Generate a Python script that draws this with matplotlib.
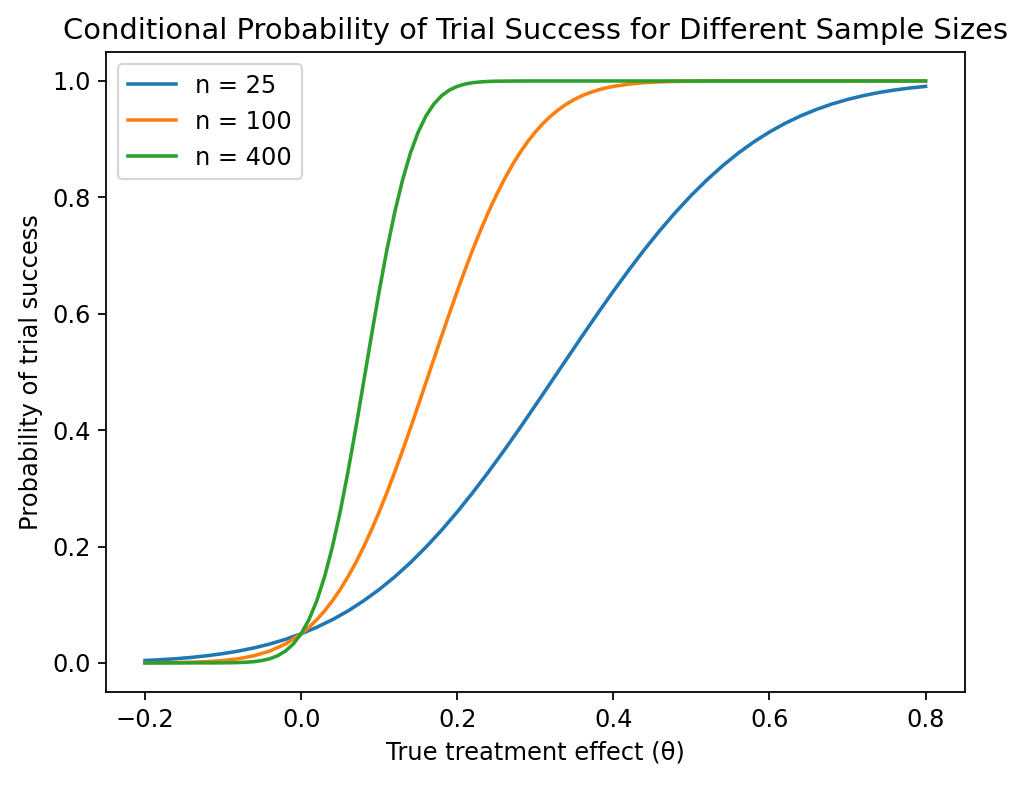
import numpy as np
import matplotlib
matplotlib.use('Agg')
import matplotlib.pyplot as plt

# values
theta25=[-0.20,-0.18,-0.16,-0.14,-0.12,-0.10,-0.08,-0.06,-0.04,-0.02,0.00,0.02,0.04,0.06,0.08,0.10,0.12,0.14,0.16,0.18,0.20,
         0.22,0.24,0.26,0.28,0.30,0.32,0.34,0.36,0.38,0.40,0.42,0.44,0.46,0.48,0.50,0.52,0.54,0.56,0.58,0.60,
         0.62,0.64,0.66,0.68,0.70,0.72,0.74,0.76,0.78,0.80]
p25=[0.0041,0.0055,0.0072,0.0095,0.0124,0.0160,0.0204,0.0259,0.0325,0.0405,0.0500,0.0612,0.0742,0.0893,0.1066,0.1261,0.1480,0.1723,0.1991,0.2281,0.2595,
     0.2929,0.3282,0.3650,0.4032,0.4424,0.4821,0.5219,0.5616,0.6006,0.6387,0.6754,0.7106,0.7438,0.7749,0.8037,0.8302,0.8543,0.8760,0.8953,0.9123,
     0.9272,0.9400,0.9510,0.9604,0.9682,0.9747,0.9801,0.9844,0.9879,0.9907]

theta100=[-0.20,-0.18,-0.16,-0.14,-0.12,-0.10,-0.08,-0.06,-0.04,-0.02,
          0.00,0.01,0.02,0.03,0.04,0.05,0.06,0.07,0.08,0.09,0.10,0.11,0.12,0.13,0.14,0.15,0.16,0.17,0.18,0.19,0.20,
          0.21,0.22,0.23,0.24,0.25,0.26,0.27,0.28,0.29,0.30,0.31,0.32,0.33,0.34,0.35,0.36,0.37,0.38,0.39,0.40,
          0.42,0.44,0.46,0.48,0.50,0.52,0.54,0.56,0.60,0.70,0.80]
p100=[0.0001,0.0003,0.0006,0.0012,0.0022,0.0041,0.0072,0.0124,0.0204,0.0325,
      0.0500,0.0612,0.0742,0.0893,0.1066,0.1261,0.1480,0.1723,0.1991,0.2281,0.2595,0.2929,0.3282,0.3650,0.4032,0.4424,0.4821,0.5219,0.5616,0.6006,0.6387,
      0.6754,0.7106,0.7438,0.7749,0.8037,0.8302,0.8543,0.8760,0.8953,0.9123,0.9272,0.9400,0.9510,0.9604,0.9682,0.9747,0.9801,0.9844,0.9879,0.9907,
      0.9947,0.9971,0.9984,0.9992,0.9996,0.9998,0.9999,1.0,1.0,1.0,1.0]

theta400=[-0.20,-0.15,-0.12,-0.10,-0.09,-0.08,-0.07,-0.06,-0.05,-0.04,-0.03,-0.02,-0.01,0.00,0.01,0.02,0.03,0.04,0.05,0.06,0.07,0.08,0.09,
          0.10,0.11,0.12,0.13,0.14,0.15,0.16,0.17,0.18,0.19,0.20,0.21,0.22,0.23,0.24,0.25,0.26,0.30,0.40,0.50,0.60,0.70,0.80]
p400=[0.0,0.0,0.0,0.0001,0.0003,0.0006,0.0012,0.0022,0.0041,0.0072,0.0124,0.0204,0.0325,0.0500,0.0742,0.1066,0.1480,0.1991,0.2595,0.3282,0.4032,0.4821,0.5616,
      0.6387,0.7106,0.7749,0.8302,0.8760,0.9123,0.9400,0.9604,0.9747,0.9844,0.9907,0.9947,0.9971,0.9984,0.9992,0.9996,0.9998,1.0,1.0,1.0,1.0,1.0,1.0]

plt.rcParams['font.size']=10.85
f, ax1=plt.subplots(1, figsize=(6.4,4.9125), dpi=160)
f.subplots_adjust(left=0.1035, right=0.942, top=0.934, bottom=0.1196)
ax1.plot(theta25,p25,label='n = 25',lw=1.6)
ax1.plot(theta100,p100,label='n = 100',lw=1.6)
ax1.plot(theta400,p400,label='n = 400',lw=1.6)
ax1.set_title('Conditional Probability of Trial Success for Different Sample Sizes',fontsize=13)
ax1.set_xlabel('True treatment effect (θ)')
ax1.set_ylabel('Probability of trial success')
ax1.legend(loc=2)
plt.savefig('out.png', dpi=160)
